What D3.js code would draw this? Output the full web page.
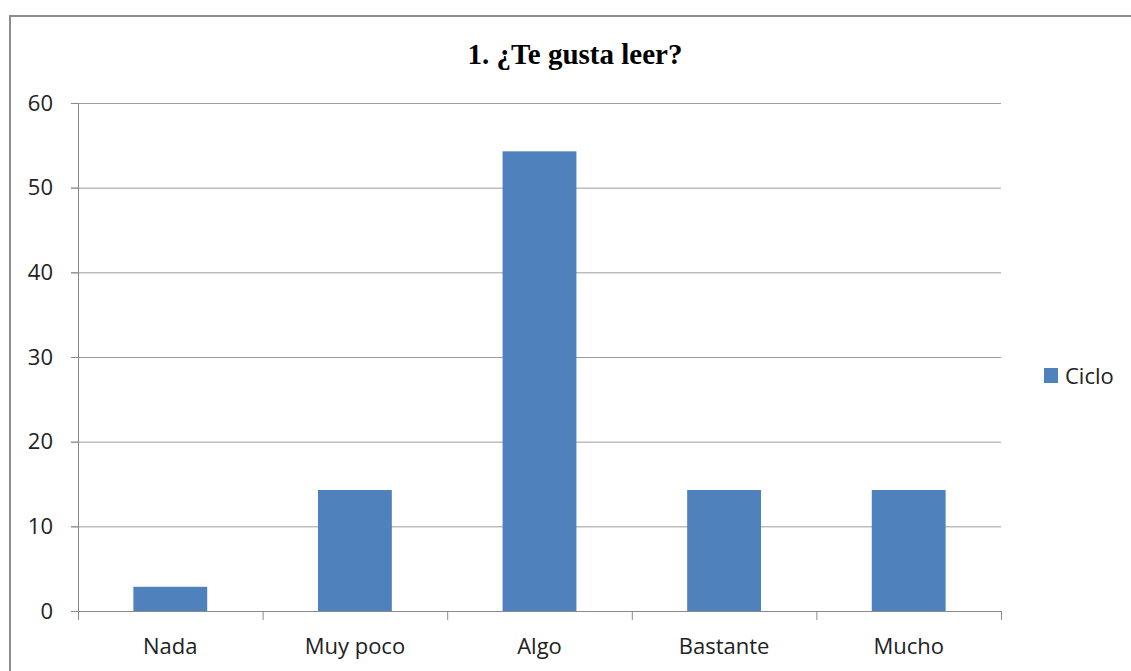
<!DOCTYPE html>
<meta charset="utf-8">
<style>
body { margin: 0; background: #fff; }
.axis text { font-family: "Open Sans", sans-serif; font-size: 22px; fill: #222; }
.axis path, .axis line { stroke: #8a8a8a; }
.grid line { stroke: #9c9c9c; }
</style>
<body>
<svg width="1131" height="671"></svg>
<script src="https://d3js.org/d3.v7.min.js"></script>
<script>
var categories = ["Nada", "Muy poco", "Algo", "Bastante", "Mucho"];
var ciclo = [2.86, 14.29, 54.29, 14.29, 14.29];
var yTicks = [0, 10, 20, 30, 40, 50, 60];
var title = "1. ¿Te gusta leer?";
var seriesName = "Ciclo";

var svg = d3.select("svg");
var margin = {top: 103, left: 78, right: 130, bottom: 60};
var width = 1001 - margin.left,
    height = 611 - margin.top;

// outer frame (left + top only visible)
svg.append("path")
    .attr("d", "M10,671 L10,16 L1131,16")
    .attr("fill", "none")
    .attr("stroke", "#8c8c8c")
    .attr("stroke-width", 2);

svg.append("text")
    .attr("x", 575)
    .attr("y", 64)
    .attr("text-anchor", "middle")
    .style("font-family", "'Liberation Serif', serif")
    .style("font-weight", "bold")
    .style("font-size", "29px")
    .text(title);

var g = svg.append("g")
    .attr("transform", "translate(" + margin.left + "," + margin.top + ")");

var x = d3.scaleBand().domain(categories).range([0, width]).paddingInner(0.6).paddingOuter(0.3);
var xb = d3.scaleBand().domain(categories).range([0, width]);
var y = d3.scaleLinear().domain([0, 60]).range([height, 0]);

g.append("g")
    .attr("class", "grid")
    .selectAll("line")
    .data(yTicks.slice(1))
    .enter().append("line")
      .attr("x1", -7).attr("x2", width)
      .attr("y1", function(d) { return y(d) + 0.5; })
      .attr("y2", function(d) { return y(d) + 0.5; });

g.append("g")
    .attr("class", "axis")
    .call(d3.axisLeft(y).tickValues(yTicks).tickSize(7).tickPadding(18))
    .call(function(a) { a.select(".domain").attr("d", "M0.5," + height + "V0"); });

g.selectAll(".bar")
    .data(ciclo)
    .enter().append("rect")
      .attr("class", "bar")
      .attr("x", function(d, i) { return x(categories[i]); })
      .attr("y", function(d) { return y(d); })
      .attr("width", x.bandwidth())
      .attr("height", function(d) { return height - y(d); })
      .attr("fill", "#4f81bd");

// x axis with ticks between categories
var xa = g.append("g")
    .attr("class", "axis")
    .attr("transform", "translate(0," + height + ")");
xa.append("line").attr("x1", -7).attr("x2", width).attr("y1", 0.5).attr("y2", 0.5);
xa.selectAll(".sep")
    .data(categories.concat(["end"]))
    .enter().append("line")
      .attr("x1", function(d, i) { return i * xb.bandwidth() + 0.5; })
      .attr("x2", function(d, i) { return i * xb.bandwidth() + 0.5; })
      .attr("y1", 0).attr("y2", 9);
xa.selectAll("text")
    .data(categories)
    .enter().append("text")
      .attr("x", function(d) { return xb(d) + xb.bandwidth() / 2; })
      .attr("y", 43)
      .attr("text-anchor", "middle")
      .text(function(d) { return d; });

var legend = svg.append("g").attr("transform", "translate(1044,368)");
legend.append("rect").attr("width", 14).attr("height", 15).attr("fill", "#4f81bd");
legend.append("text")
    .attr("x", 21).attr("y", 16)
    .style("font-family", "'Open Sans', sans-serif")
    .style("font-size", "22px")
    .attr("fill", "#222")
    .text(seriesName);
</script>
</body>
